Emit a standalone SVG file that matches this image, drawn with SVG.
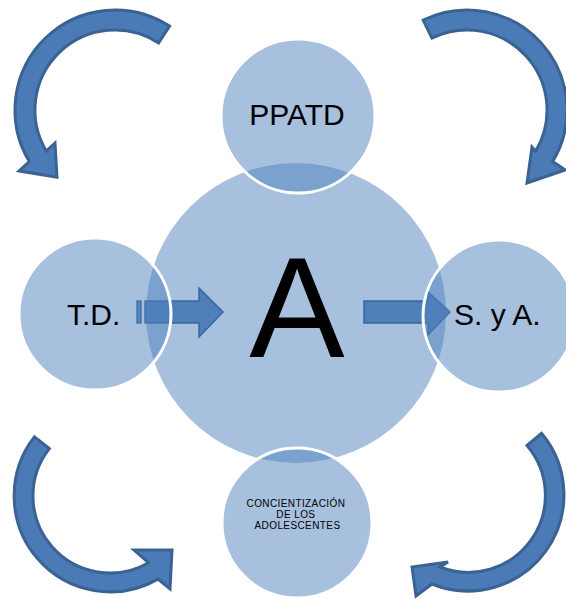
<svg xmlns="http://www.w3.org/2000/svg" width="566" height="599" viewBox="0 0 566 599">
<defs>
<style>
.bg{fill:#ffffff}
.center{fill:#4f81bd;fill-opacity:0.5}
.sat{fill:#4f81bd;fill-opacity:0.5;stroke:#ffffff;stroke-width:3}
.curve{fill:#4a7bb6;stroke:#3a6293;stroke-width:3;stroke-linejoin:miter}
.straight{fill:#3f73b3;fill-opacity:0.85;stroke:#3a669f;stroke-width:1.5}
.t{font-family:"Liberation Sans",Arial,sans-serif;fill:#000000}
</style>
</defs>
<rect class="bg" x="0" y="0" width="566" height="599"/>
<g id="node-A">
<circle class="center" cx="296" cy="313" r="150"/>
</g>
<g id="connectors">
<path id="arrow-top-left" class="curve" d="M169.5,26.1 A100,100 0 0 0 29.3,161.5 L19,171 L57,177.2 L55,143 L46.4,151.2 A80,80 0 0 1 158.6,42.9 Z"/>
<path id="arrow-top-right" class="curve" d="M423.2,20.1 A100,100 0 0 1 552.7,161.5 L565,170 L527,183 L532,147 L535.6,151.2 A80,80 0 0 0 431.9,38.1 Z"/>
<path id="arrow-bottom-left" class="curve" d="M34.4,436.9 A96,96 0 0 0 158,579.1 L170,589 L172,550 L134,550 L148.5,562.7 A77,77 0 0 1 49.3,448.6 Z"/>
<path id="arrow-bottom-right" class="curve" d="M541.5,433.3 A96,96 0 0 1 432,584 L416,596 L412,567 L448,562 L440,567 A77,77 0 0 0 527,445.5 Z"/>
<rect class="straight" x="137" y="301" width="4" height="22"/>
<path id="arrow-td-a" class="straight" d="M145,301 L199,301 L199,288 L223,312 L199,337 L199,323 L145,323 Z"/>
<path id="arrow-a-sya" class="straight" d="M364,301 L428,301 L428,292 L450,312 L428,335 L428,323 L364,323 Z"/>
</g>
<g id="node-PPATD">
<circle class="sat" cx="298" cy="116" r="77"/>
<text class="t" x="297" y="125" font-size="30" text-anchor="middle">PPATD</text>
</g>
<g id="node-TD">
<circle class="sat" cx="95" cy="314" r="76"/>
<text class="t" x="67" y="325" font-size="30">T.D.</text>
</g>
<g id="node-SyA">
<circle class="sat" cx="499" cy="316" r="76"/>
<text class="t" x="454" y="325" font-size="30">S. y A.</text>
</g>
<g id="node-concientizacion">
<circle class="sat" cx="297" cy="523" r="75"/>
<text class="t" font-size="10" text-anchor="middle" letter-spacing="0.4">
<tspan x="297.5" y="507">CONCIENTIZACIÓN</tspan>
<tspan x="297.5" y="518">DE LOS</tspan>
<tspan x="297.5" y="529">ADOLESCENTES</tspan>
</text>
</g>
<g id="label-A">
<text class="t" x="297" y="357" font-size="143" text-anchor="middle">A</text>
</g>
</svg>
